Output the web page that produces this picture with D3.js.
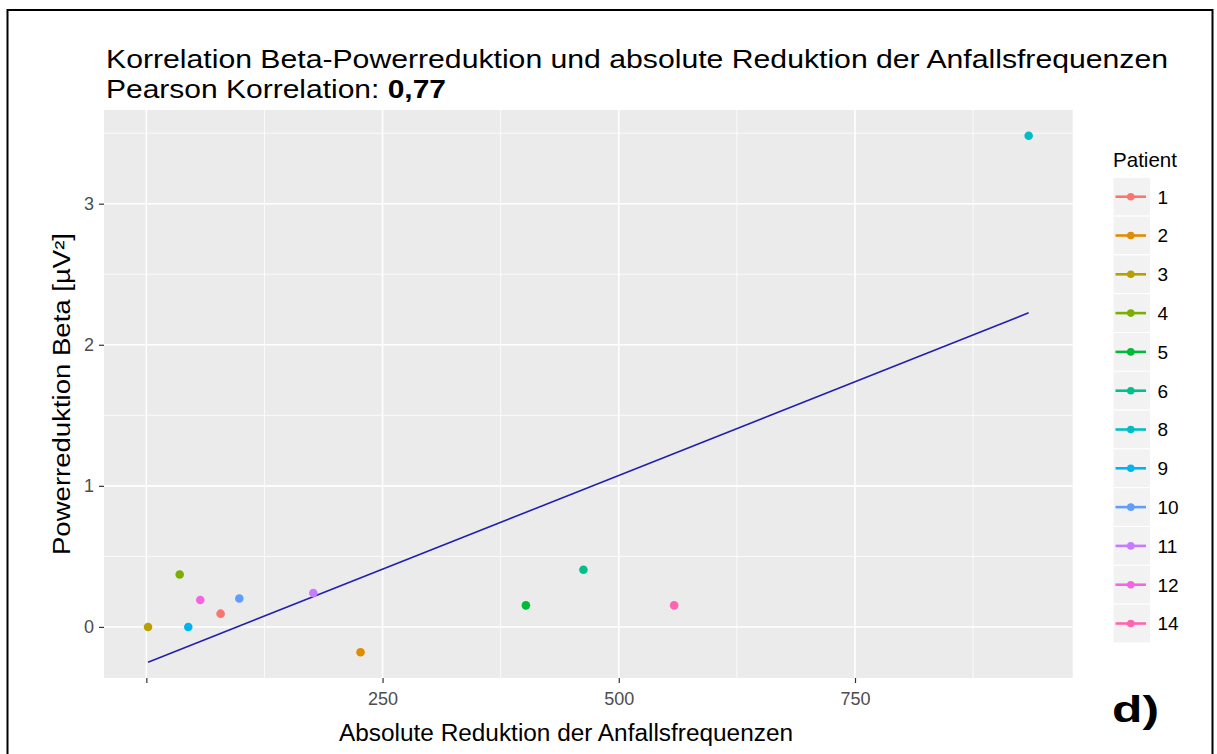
<!DOCTYPE html>
<html>
<head>
<meta charset="utf-8">
<script src="https://cdn.jsdelivr.net/npm/d3@7/dist/d3.min.js"></script>
<style>
  html, body { margin: 0; padding: 0; background: #fff; }
  svg { display: block; }
  text { font-family: "Liberation Sans", Arial, sans-serif; }
</style>
</head>
<body>
<svg id="chart" width="1217" height="754"></svg>
<script>
// ---- data ----
const patients   = ["1", "2", "3", "4", "5", "6", "8", "9", "10", "11", "12", "14"];
const reduction  = [78.6, 226.7, 1.8, 35.3, 401.7, 462.6, 933.8, 44.4, 98.4, 176.7, 57.1, 558.6];
const powerBeta  = [0.094, -0.179, 0.0, 0.372, 0.153, 0.405, 3.481, 0.0, 0.202, 0.240, 0.191, 0.153];
const patientColors = ["#F8766D", "#DE8C00", "#B79F00", "#7CAE00", "#00BA38", "#00C08B",
                       "#00BFC4", "#00B4F0", "#619CFF", "#C77CFF", "#F564E3", "#FF64B0"];
const xTickValues = [0, 250, 500, 750];
const xTickLabels = ["", "250", "500", "750"];
const xMinorValues = [125, 375, 625, 875];
const yTickValues = [0, 1, 2, 3];
const yTickLabels = ["0", "1", "2", "3"];
const yMinorValues = [0.5, 1.5, 2.5, 3.5];
const titleLine1 = "Korrelation Beta-Powerreduktion und absolute Reduktion der Anfallsfrequenzen";
const titleLine2a = "Pearson Korrelation: ";
const titleLine2b = "0,77";
const xTitle = "Absolute Reduktion der Anfallsfrequenzen";
const yTitle = "Powerreduktion Beta [µV²]";
const legendTitle = "Patient";
const panelLabel = "d)";

// ---- layout ----
const panel = { left: 104, right: 1072.7, top: 110, bottom: 678 };
const svg = d3.select("#chart");

// outer frame
svg.append("rect").attr("x", 7.5).attr("y", 10).attr("width", 1205).attr("height", 760)
  .attr("fill", "none").attr("stroke", "#000").attr("stroke-width", 2);

// scales with ggplot-like 5% expansion
const xExt = d3.extent(reduction), yExt = d3.extent(powerBeta);
const xPad = (xExt[1] - xExt[0]) * 0.05, yPad = (yExt[1] - yExt[0]) * 0.05;
const x = d3.scaleLinear().domain([xExt[0] - xPad, xExt[1] + xPad]).range([panel.left, panel.right]);
const y = d3.scaleLinear().domain([yExt[0] - yPad, yExt[1] + yPad]).range([panel.bottom, panel.top]);

// panel background
svg.append("rect").attr("x", panel.left).attr("y", panel.top)
  .attr("width", panel.right - panel.left).attr("height", panel.bottom - panel.top)
  .attr("fill", "#EBEBEB");

const grid = svg.append("g");
grid.selectAll(".xminor").data(xMinorValues).join("line")
  .attr("x1", d => x(d)).attr("x2", d => x(d)).attr("y1", panel.top).attr("y2", panel.bottom)
  .attr("stroke", "#fff").attr("stroke-width", 0.8);
grid.selectAll(".yminor").data(yMinorValues).join("line")
  .attr("y1", d => y(d)).attr("y2", d => y(d)).attr("x1", panel.left).attr("x2", panel.right)
  .attr("stroke", "#fff").attr("stroke-width", 0.8);
grid.selectAll(".xmajor").data(xTickValues).join("line")
  .attr("x1", d => x(d)).attr("x2", d => x(d)).attr("y1", panel.top).attr("y2", panel.bottom)
  .attr("stroke", "#fff").attr("stroke-width", 1.6);
grid.selectAll(".ymajor").data(yTickValues).join("line")
  .attr("y1", d => y(d)).attr("y2", d => y(d)).attr("x1", panel.left).attr("x2", panel.right)
  .attr("stroke", "#fff").attr("stroke-width", 1.6);

// axes
const xAxis = d3.axisBottom(x).tickValues(xTickValues)
  .tickFormat((d, i) => xTickLabels[i]).tickSizeInner(5).tickSizeOuter(0).tickPadding(9);
const gx = svg.append("g").attr("transform", `translate(0,${panel.bottom})`).call(xAxis);
gx.select(".domain").remove();
gx.selectAll(".tick line").attr("stroke", "#333").attr("stroke-width", 1.2);
gx.selectAll(".tick text").attr("fill", "#4D4D4D").attr("font-size", 18);

const yAxis = d3.axisLeft(y).tickValues(yTickValues)
  .tickFormat((d, i) => yTickLabels[i]).tickSizeInner(5).tickSizeOuter(0).tickPadding(5);
const gy = svg.append("g").attr("transform", `translate(${panel.left},0)`).call(yAxis);
gy.select(".domain").remove();
gy.selectAll(".tick line").attr("stroke", "#333").attr("stroke-width", 1.2);
gy.selectAll(".tick text").attr("fill", "#4D4D4D").attr("font-size", 18);

// regression line (least squares, like geom_smooth(method = "lm"))
const mx = d3.mean(reduction), my = d3.mean(powerBeta);
let sxy = 0, sxx = 0;
reduction.forEach((v, i) => { sxy += (v - mx) * (powerBeta[i] - my); sxx += (v - mx) * (v - mx); });
const slope = sxy / sxx, intercept = my - slope * mx;
svg.append("line")
  .attr("x1", x(xExt[0])).attr("y1", y(intercept + slope * xExt[0]))
  .attr("x2", x(xExt[1])).attr("y2", y(intercept + slope * xExt[1]))
  .attr("stroke", "#2320B0").attr("stroke-width", 1.6);

// points
svg.append("g").selectAll("circle").data(patients).join("circle")
  .attr("cx", (d, i) => x(reduction[i])).attr("cy", (d, i) => y(powerBeta[i]))
  .attr("r", 4.3).attr("fill", (d, i) => patientColors[i]);

// titles
svg.append("text").attr("x", 106).attr("y", 68).attr("font-size", 26).attr("fill", "#000")
  .text(titleLine1).attr("textLength", 1062).attr("lengthAdjust", "spacingAndGlyphs");
const t2 = svg.append("text").attr("x", 106).attr("y", 98).attr("font-size", 26).attr("fill", "#000");
t2.append("tspan").text(titleLine2a);
t2.append("tspan").attr("font-weight", "bold").text(titleLine2b);
t2.attr("textLength", 340).attr("lengthAdjust", "spacingAndGlyphs");

svg.append("text").attr("x", 566).attr("y", 741).attr("text-anchor", "middle")
  .attr("font-size", 23).attr("fill", "#000").text(xTitle)
  .attr("textLength", 454).attr("lengthAdjust", "spacingAndGlyphs");

svg.append("text").attr("transform", `translate(70,${(panel.top + panel.bottom) / 2}) rotate(-90)`)
  .attr("text-anchor", "middle").attr("font-size", 23).attr("fill", "#000").text(yTitle)
  .attr("textLength", 322).attr("lengthAdjust", "spacingAndGlyphs");

// legend
const leg = { x: 1113, top: 177.3, key: 38.8, keyW: 37.5 };
svg.append("text").attr("x", leg.x).attr("y", 167).attr("font-size", 21).attr("fill", "#000")
  .text(legendTitle).attr("textLength", 64).attr("lengthAdjust", "spacingAndGlyphs");
const items = svg.append("g").selectAll("g").data(patients).join("g")
  .attr("transform", (d, i) => `translate(${leg.x},${leg.top + i * leg.key})`);
items.append("rect").attr("width", leg.keyW).attr("height", leg.key)
  .attr("fill", "#F2F2F2").attr("stroke", "#fff").attr("stroke-width", 1);
items.append("line").attr("x1", 2.5).attr("x2", 33).attr("y1", leg.key / 2).attr("y2", leg.key / 2)
  .attr("stroke", (d, i) => patientColors[i]).attr("stroke-width", 2.6);
items.append("circle").attr("cx", 17.8).attr("cy", leg.key / 2).attr("r", 3.8)
  .attr("fill", (d, i) => patientColors[i]);
items.append("text").attr("x", 44.5).attr("y", leg.key / 2).attr("dy", "0.36em")
  .attr("font-size", 19).attr("fill", "#000").text(d => d);

// panel label
svg.append("text").attr("x", 1112).attr("y", 722).attr("font-size", 37).attr("font-weight", "bold")
  .attr("fill", "#000").text(panelLabel).attr("textLength", 47).attr("lengthAdjust", "spacingAndGlyphs");
</script>
</body>
</html>
